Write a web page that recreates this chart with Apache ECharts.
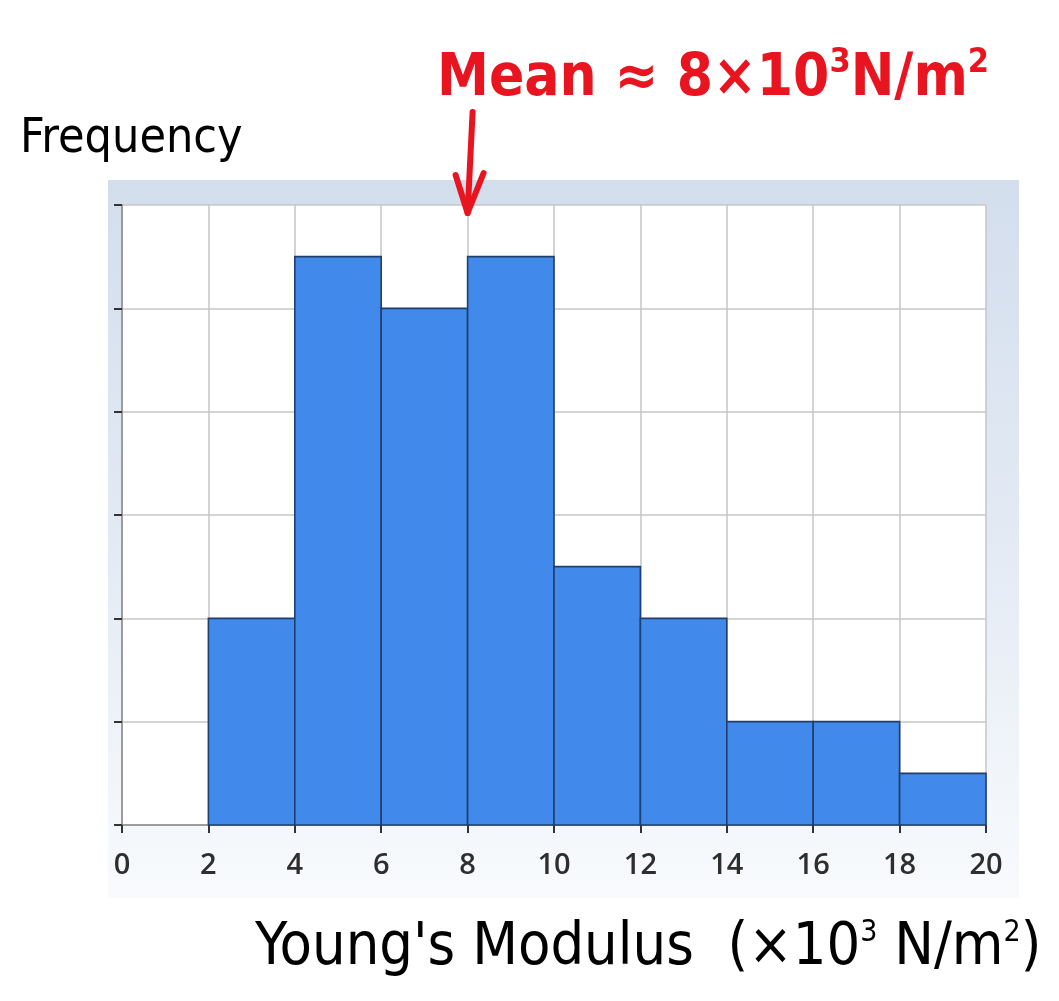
<!DOCTYPE html>
<html>
<head>
<meta charset="utf-8">
<script src="https://cdn.jsdelivr.net/npm/echarts@6/dist/echarts.min.js"></script>
<style>
html,body{margin:0;padding:0;background:#fff;}
#chart{width:1059px;height:1001px;}
</style>
</head>
<body>
<div id="chart"></div>
<script>
// Data
const binStarts = [2, 4, 6, 8, 10, 12, 14, 16, 18];
const binEnds   = [4, 6, 8, 10, 12, 14, 16, 18, 20];
const frequencies = [4, 11, 10, 11, 5, 4, 2, 2, 1];
const xTickLabels = ['0','2','4','6','8','10','12','14','16','18','20'];
const meanValue = 8;
const yTitle = 'Frequency';

const chart = echarts.init(document.getElementById('chart'), null, {renderer: 'canvas'});

const seriesData = binStarts.map((s, i) => [s, binEnds[i], frequencies[i]]);

const handFont = 'DejaVu Sans Condensed, DejaVu Sans, sans-serif';

const option = {
  backgroundColor: '#ffffff',
  animation: false,
  grid: {left: 122, top: 205, right: 73, bottom: 176, show: false},
  xAxis: {
    type: 'value', min: 0, max: 20, interval: 2,
    axisLine: {show: true, lineStyle: {color: '#8a8a8a', width: 1.5}},
    axisTick: {show: true, length: 8, lineStyle: {color: '#333', width: 2}},
    axisLabel: {
      margin: 26, color: '#2e2e2e', fontSize: 29, fontWeight: 600,
      fontFamily: 'Open Sans',
      formatter: v => xTickLabels[Math.round(v / 2)]
    },
    splitLine: {show: true, lineStyle: {color: '#c6c6c6', width: 1.5}}
  },
  yAxis: {
    type: 'value', min: 0, max: 12, interval: 2,
    axisLine: {show: true, lineStyle: {color: '#8a8a8a', width: 1.5}},
    axisTick: {show: true, length: 8, lineStyle: {color: '#333', width: 2}},
    axisLabel: {show: false},
    splitLine: {show: true, lineStyle: {color: '#c6c6c6', width: 1.5}}
  },
  series: [{
    type: 'custom',
    data: seriesData,
    z: 3,
    renderItem: function (params, api) {
      const p0 = api.coord([api.value(0), 0]);
      const p1 = api.coord([api.value(1), api.value(2)]);
      return {
        type: 'rect',
        shape: {x: p0[0], y: p1[1], width: p1[0] - p0[0], height: p0[1] - p1[1]},
        style: {fill: '#4189ea', stroke: '#213f6b', lineWidth: 1.6}
      };
    }
  }]
};
chart.setOption(option);

// Frame & annotations
const topLeft = chart.convertToPixel({gridIndex: 0}, [0, 12]);
const botRight = chart.convertToPixel({gridIndex: 0}, [20, 0]);
const meanTop = chart.convertToPixel({gridIndex: 0}, [meanValue, 12]);
const red = '#e8141f';

chart.setOption({
  graphic: [
    {
      type: 'rect', z: -10, silent: true,
      shape: {x: topLeft[0] - 14, y: topLeft[1] - 25, width: botRight[0] - topLeft[0] + 47, height: botRight[1] - topLeft[1] + 98},
      style: {fill: new echarts.graphic.LinearGradient(0, 0, 0, 1, [
        {offset: 0, color: '#d3deed'},
        {offset: 0.5, color: '#e3eaf4'},
        {offset: 0.82, color: '#f1f5fa'},
        {offset: 1, color: '#f8fafc'}
      ])}
    },
    {
      type: 'rect', z: -9, silent: true,
      shape: {x: topLeft[0], y: topLeft[1], width: botRight[0] - topLeft[0], height: botRight[1] - topLeft[1]},
      style: {fill: '#ffffff'}
    },
    {
      type: 'text', left: 20, top: 116, z: 10,
      style: {text: yTitle, fontSize: 48, fontFamily: handFont, fill: '#000'}
    },
    {
      type: 'text', left: 255, top: 918, z: 10,
      style: {
        text: "{a|Young's Modulus  (×10}{s|3}{a| N/m}{s|2}{a|)}",
        rich: {
          a: {fontSize: 59, fontFamily: handFont, fill: '#000'},
          s: {fontSize: 30, fontFamily: handFont, fill: '#000', padding: [0,0,32,0]}
        }
      }
    },
    {
      type: 'text', left: 437, top: 46, z: 10,
      style: {
        fill: red,
        text: '{a|Mean ≈ 8×10}{s|3}{a|N/m}{s|2}',
        rich: {
          a: {fontSize: 58, fontFamily: handFont, fontWeight: 'bold', fill: red},
          s: {fontSize: 34, fontFamily: handFont, fontWeight: 'bold', fill: red, padding: [0,0,34,0]}
        }
      }
    },
    {
      type: 'line', z: 10,
      shape: {x1: meanTop[0] + 5, y1: 112, x2: meanTop[0], y2: meanTop[1] + 8},
      style: {stroke: red, lineWidth: 6, lineCap: 'round'}
    },
    {
      type: 'polyline', z: 10,
      shape: {points: [[meanTop[0] - 12, meanTop[1] - 30], [meanTop[0], meanTop[1] + 8], [meanTop[0] + 16, meanTop[1] - 32]]},
      style: {stroke: red, lineWidth: 6, lineCap: 'round', lineJoin: 'round', fill: null}
    }
  ]
});
</script>
</body>
</html>
